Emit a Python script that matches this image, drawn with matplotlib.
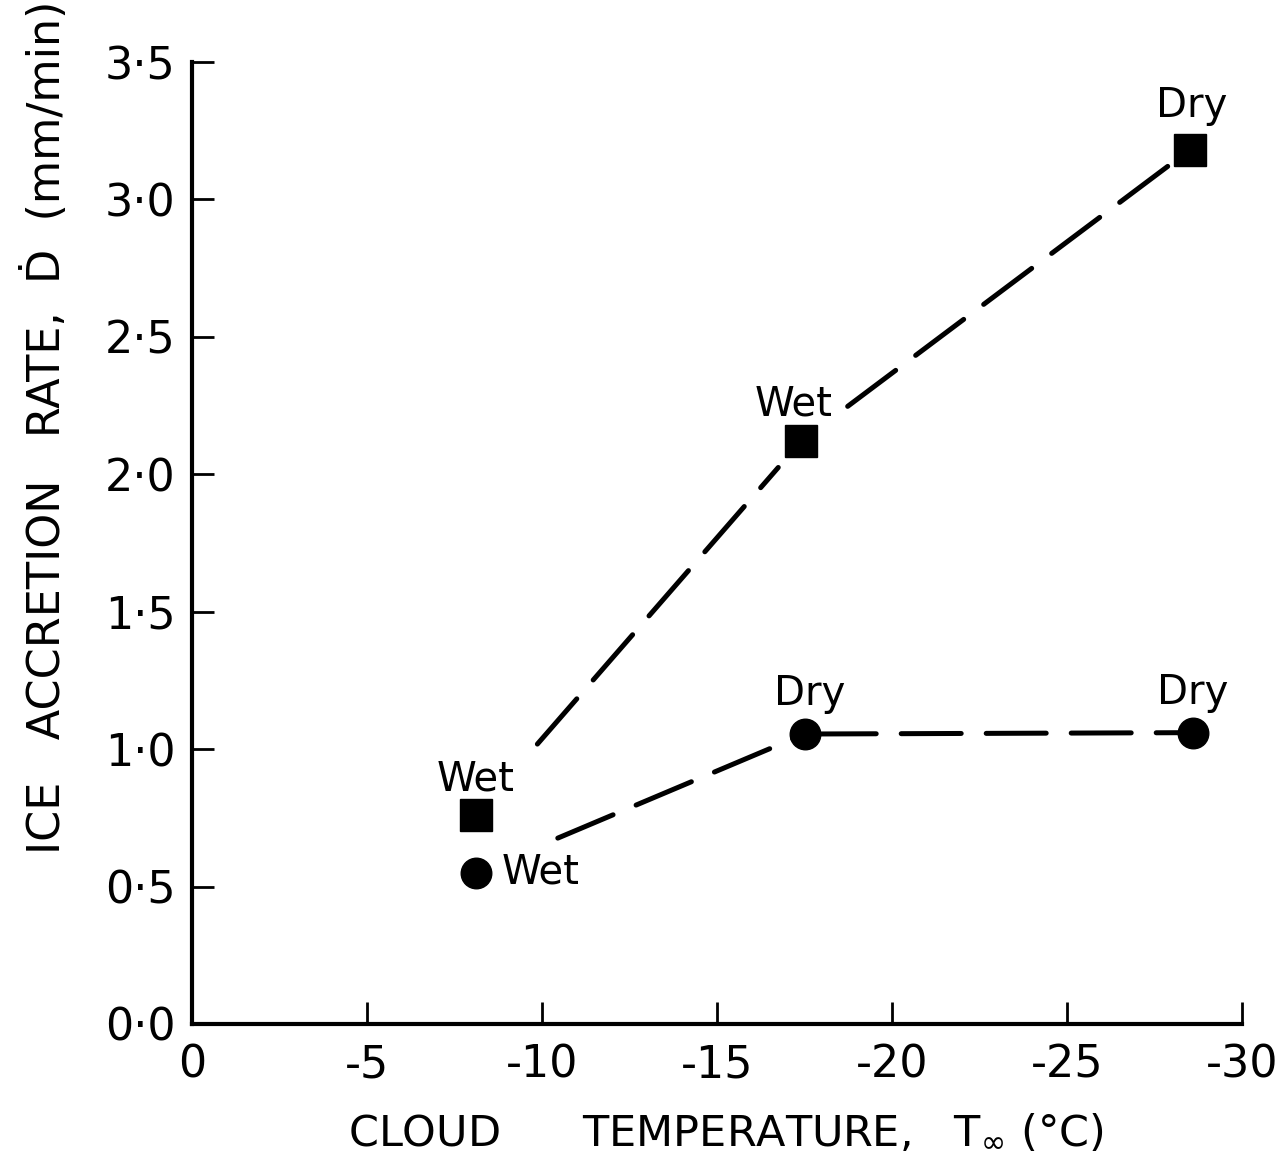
import matplotlib
matplotlib.use('Agg')
import matplotlib.pyplot as plt
import numpy as np
from matplotlib.ticker import FuncFormatter

# values
temp_sq = [-8.1, -17.4, -28.5]
rate_sq = [0.76, 2.12, 3.18]
state_sq = ['Wet', 'Wet', 'Dry']

temp_ci = [-8.1, -17.5, -28.6]
rate_ci = [0.55, 1.055, 1.06]
state_ci = ['Wet', 'Dry', 'Dry']

xticks = [0, -5, -10, -15, -20, -25, -30]
yticks = [0.0, 0.5, 1.0, 1.5, 2.0, 2.5, 3.0, 3.5]

plt.rcParams['font.family'] = ['DejaVu Sans']
plt.rcParams['axes.unicode_minus'] = False

fig = plt.figure(figsize=(12.81, 11.64), dpi=100)
ax = fig.add_axes([0.1499, 0.1203, 0.8197, 0.8264])

# trimmed dashed segments (gaps near labels, as in the original)
def seg(x, y, trims):
    for i, (a, b) in enumerate(trims):
        x0, x1 = x[i], x[i + 1]
        y0, y1 = y[i], y[i + 1]
        ax.plot([x0 + a * (x1 - x0), x0 + b * (x1 - x0)],
                [y0 + a * (y1 - y0), y0 + b * (y1 - y0)],
                color='black', lw=3.6, dashes=(12, 5), dash_capstyle='round')

seg(temp_sq, rate_sq, [(0.19, 0.93), (0.12, 0.95)])
seg(temp_ci, rate_ci, [(0.25, 0.97), (0.03, 0.97)])

ax.plot(temp_sq, rate_sq, 's', color='black', ms=23, ls='none')
ax.plot(temp_ci, rate_ci, 'o', color='black', ms=22, ls='none')

fs = 29
# labels for squares
ax.text(temp_sq[0], rate_sq[0] + 0.09, state_sq[0], fontsize=fs, ha='center', va='baseline')
ax.text(temp_sq[1] + 0.2, rate_sq[1] + 0.095, state_sq[1], fontsize=fs, ha='center', va='baseline')
ax.text(temp_sq[2] - 0.07, rate_sq[2] + 0.12, state_sq[2], fontsize=fs, ha='center', va='baseline')
# labels for circles
ax.text(temp_ci[0] - 0.76, rate_ci[0], state_ci[0], fontsize=fs, ha='left', va='center')
ax.text(temp_ci[1] - 0.16, rate_ci[1] + 0.105, state_ci[1], fontsize=fs, ha='center', va='baseline')
ax.text(temp_ci[2], rate_ci[2] + 0.105, state_ci[2], fontsize=fs, ha='center', va='baseline')

ax.set_xlim(0, -30)
ax.set_ylim(0, 3.5)
ax.set_xticks(xticks)
ax.set_yticks(yticks)
ax.xaxis.set_major_formatter(FuncFormatter(lambda v, p: '%d' % v))
ax.yaxis.set_major_formatter(FuncFormatter(lambda v, p: ('%.1f' % v).replace('.', '\u00b7')))

ax.spines['top'].set_visible(False)
ax.spines['right'].set_visible(False)
for s in ['left', 'bottom']:
    ax.spines[s].set_linewidth(3)
ax.tick_params(direction='in', length=16, width=2, labelsize=32, pad=14)
ax.tick_params(axis='y', pad=12)

ax.set_ylabel('ICE   ACCRETION   RATE,  \u1e0a  (mm/min)', fontsize=32, va='center')
ax.yaxis.set_label_coords(-0.14, 0.62)
ax.set_xlabel('CLOUD      TEMPERATURE,   T$_{\\infty}$ (\u00b0C)', fontsize=31, va='center')
ax.xaxis.set_label_coords(0.508, -0.113)

fig.savefig('out.png', dpi=100)
